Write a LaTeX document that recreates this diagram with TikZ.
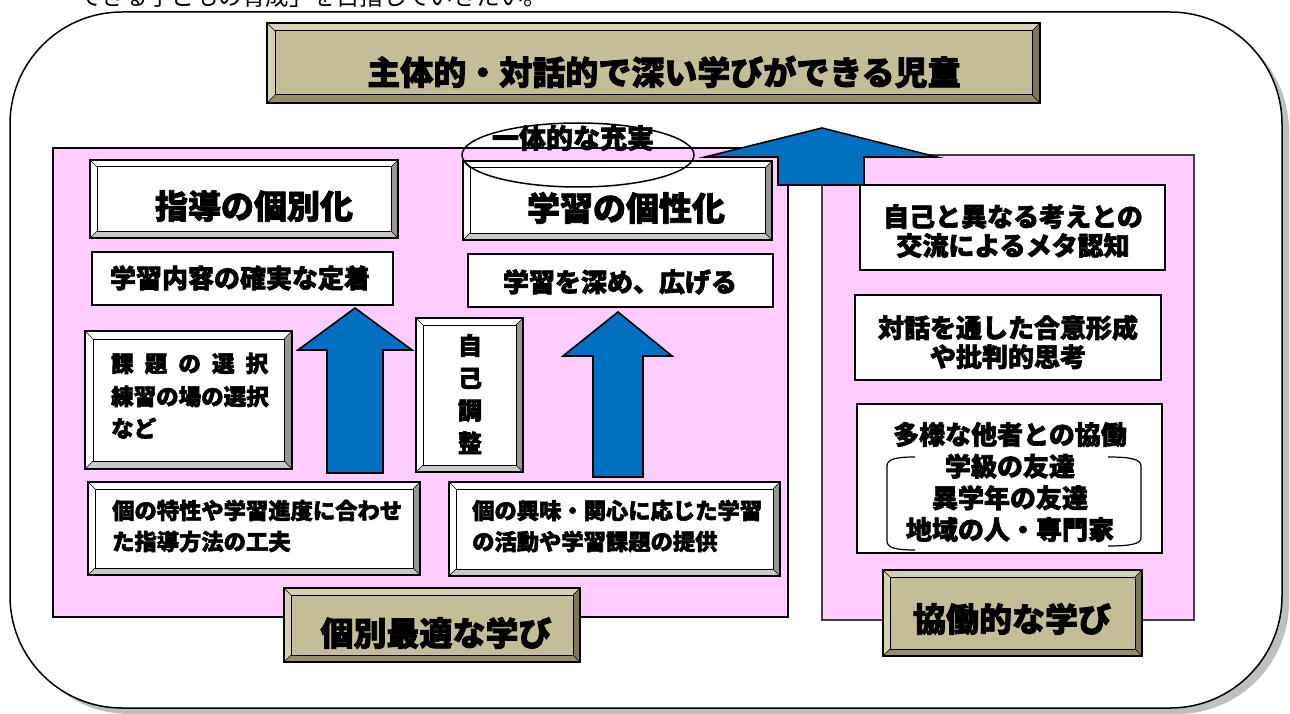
\documentclass[tikz,border=0pt]{standalone}
\usepackage{fontspec}
\newfontfamily\jp{Noto Sans CJK JP}[BoldFeatures={FakeBold=2.4}]
\newfontfamily\jpr{Noto Sans CJK JP}
\usetikzlibrary{calc,shapes.geometric}
\definecolor{pinkbg}{RGB}{255,204,255}
\definecolor{tanc}{RGB}{196,189,151}
\definecolor{tanlt}{RGB}{214,208,180}
\definecolor{tandk}{RGB}{125,119,90}
\definecolor{tanmd}{RGB}{150,143,110}
\definecolor{blueA}{RGB}{0,112,192}
\definecolor{bevR}{RGB}{150,150,150}
\definecolor{bevB}{RGB}{200,200,200}
\newcommand\fs[1]{\fontsize{#1}{#1}\selectfont}
\newcommand\mkbox[7]{\node[#6, minimum width={#4-#2}, minimum height={#5-#3}] (#1) at ({(#2+#4)/2},{(#3+#5)/2}) {#7};}
\newcommand\bevel[6]{%
 \fill[#3] (#1.north west) -- (#1.north east) -- ($(#1.north east)+(-#2,#2)$) -- ($(#1.north west)+(#2,#2)$) -- cycle;
 \fill[#4] (#1.north west) -- ($(#1.north west)+(#2,#2)$) -- ($(#1.south west)+(#2,-#2)$) -- (#1.south west) -- cycle;
 \fill[#5] (#1.north east) -- ($(#1.north east)+(-#2,#2)$) -- ($(#1.south east)+(-#2,-#2)$) -- (#1.south east) -- cycle;
 \fill[#6] (#1.south west) -- ($(#1.south west)+(#2,-#2)$) -- ($(#1.south east)+(-#2,-#2)$) -- (#1.south east) -- cycle;
 \draw[line width=0.6pt] (#1.north west) -- ($(#1.north west)+(#2,#2)$) (#1.north east) -- ($(#1.north east)+(-#2,#2)$) (#1.south east) -- ($(#1.south east)+(-#2,-#2)$) (#1.south west) -- ($(#1.south west)+(#2,-#2)$);
 \draw[line width=1pt] ($(#1.north west)+(#2,#2)$) rectangle ($(#1.south east)+(-#2,-#2)$);
 \draw[line width=1.6pt] (#1.north west) rectangle (#1.south east);
}
\tikzset{
  frame/.style={draw=black, line width=1.6pt, inner sep=0pt, outer sep=0pt},
  wbox/.style={frame, fill=white},
  tbox/.style={frame, fill=tanc},
  panel/.style={draw=black, line width=2.6pt, fill=pinkbg, inner sep=0pt, outer sep=0pt},
  rpanel/.style={draw=black!75, line width=1.5pt, fill=pinkbg, inner sep=0pt, outer sep=0pt},
  lbl/.style={inner sep=0pt, align=center, font=\jp\bfseries\fs{#1}},
  lblL/.style={inner sep=0pt, anchor=base west, font=\jp\bfseries\fs{#1}},
  barrow/.style={fill=blueA, draw=black, line width=1.6pt, line join=miter},
}
\begin{document}
\begin{tikzpicture}[x=1pt,y=-1pt]
\useasboundingbox (0,0) rectangle (1290,714);
\clip (0,0) rectangle (1290,714);
% cut-off text at the top
\node[anchor=base west, inner sep=0pt, font=\jpr\fs{23.5}] (intro) at (78,6) {できる子どもの育成」を目指していきたい。};
% outer rounded frame with shadow
\fill[black!25, rounded corners=112pt] (17,19) rectangle (1289,714);
\draw[line width=1.5pt, fill=white, rounded corners=112pt] (10,12) rectangle (1282,708);
% title
\mkbox{title}{267}{23}{1040}{103}{tbox}{}
\bevel{title}{8}{tanlt}{tanlt}{tandk}{tanmd}
\node[lbl=33] (titlet) at (664,72) {主体的・対話的で深い学びができる児童};
% panels
\mkbox{lp}{53}{148}{788}{617}{panel}{}
\mkbox{rp}{822}{155}{1194}{620}{rpanel}{}
% left panel: headings
\mkbox{b1}{90}{160}{398}{238}{wbox}{}
\bevel{b1}{7}{white}{white}{bevR}{bevB}
\node[lbl=33] (b1t) at (254,206) {指導の個別化};
\mkbox{b2}{463}{161}{772}{240}{wbox}{}
\bevel{b2}{7}{white}{white}{bevR}{bevB}
\node[lbl=33] (b2t) at (626,208) {学習の個性化};
% plain boxes
\mkbox{c1}{92}{252}{393}{305}{wbox}{}
\node[lbl=26] (c1t) at (240,278) {学習内容の確実な定着};
\mkbox{c2}{468}{254}{773}{307}{wbox}{}
\node[lbl=26] (c2t) at (620,282) {学習を深め、広げる};
% choice box
\mkbox{d1}{85}{331}{292}{469}{wbox}{}
\bevel{d1}{8}{white}{white}{bevR}{bevB}
\node[lblL=22.5] (d1a) at (111,372) {\makebox[157pt][l]{課\hfill 題\hfill の\hfill 選\hfill 択}};
\node[lblL=22.5] (d1b) at (111,405) {練習の場の選択};
\node[lblL=22.5] (d1c) at (111,437) {など};
% self-regulation
\mkbox{d2}{416}{318}{523}{472}{wbox}{}
\bevel{d2}{7}{white}{white}{bevR}{bevB}
\node[lbl=24, font=\jp\bfseries\fontsize{24}{32.5}\selectfont] (d2t) at (470,394) {自\\己\\調\\整};
% blue arrows
\draw[barrow] (355,308) -- (412,350) -- (383,350) -- (383,473) -- (327,473) -- (327,350) -- (298,350) -- cycle;
\draw[barrow] (618,312) -- (672,356) -- (643,356) -- (643,477) -- (593,477) -- (593,356) -- (563,356) -- cycle;
% lower boxes
\mkbox{e1}{88}{482}{420}{575}{wbox}{}
\bevel{e1}{7}{white}{white}{bevR}{bevB}
\node[lblL=22.3] (e1a) at (112,519) {個の特性や学習進度に合わせ};
\node[lblL=22.3] (e1b) at (112,550) {た指導方法の工夫};
\mkbox{e2}{449}{482}{780}{576}{wbox}{}
\bevel{e2}{7}{white}{white}{bevR}{bevB}
\node[lblL=22.3] (e2a) at (472,519) {個の興味・関心に応じた学習};
\node[lblL=22.3] (e2b) at (472,550) {の活動や学習課題の提供};
% bottom label left
\mkbox{g1}{284}{588}{580}{662}{tbox}{}
\bevel{g1}{7}{tanlt}{tanlt}{tandk}{tanmd}
\node[lbl=33] (g1t) at (436,633) {個別最適な学び};
% right panel boxes
\mkbox{f1}{860}{185}{1165}{270}{wbox}{}
\node[lbl=26, font=\jp\bfseries\fontsize{26}{29}\selectfont] (f1t) at (1013,231) {自己と異なる考えとの\\交流によるメタ認知};
\mkbox{f2}{855}{295}{1161}{380}{wbox}{}
\node[lbl=26, font=\jp\bfseries\fontsize{26}{29}\selectfont] (f2t) at (1008,342) {対話を通した合意形成\\や批判的思考};
\mkbox{f3}{857}{404}{1162}{553}{wbox}{}
\node[lbl=26, font=\jp\bfseries\fontsize{26}{31.7}\selectfont] (f3t) at (1010,482) {多様な他者との協働\\学級の友達\\異学年の友達\\地域の人・専門家};
\draw[line width=1.2pt] (915,457) .. controls (896,457) and (887,459) .. (887,466) -- (887,541) .. controls (887,548) and (896,550) .. (915,550);
\draw[line width=1.2pt] (1108,457) .. controls (1130,457) and (1141,459) .. (1141,466) -- (1141,538) .. controls (1141,544) and (1130,546) .. (1108,546);
\mkbox{g2}{883}{570}{1142}{656}{tbox}{}
\bevel{g2}{7}{tanlt}{tanlt}{tandk}{tanmd}
\node[lbl=33] (g2t) at (1012,619) {協働的な学び};
% ellipse
\node[draw, line width=1.5pt, ellipse, minimum width=232pt, minimum height=64pt, inner sep=0pt] (ell) at (578,155) {};
\node[lbl=27] (ellt) at (573,138) {一体的な充実};
% big arrow
\draw[barrow] (822,128) -- (937,157) -- (864,157) -- (864,185) -- (778,185) -- (778,157) -- (705,157) -- cycle;
\end{tikzpicture}
\end{document}
